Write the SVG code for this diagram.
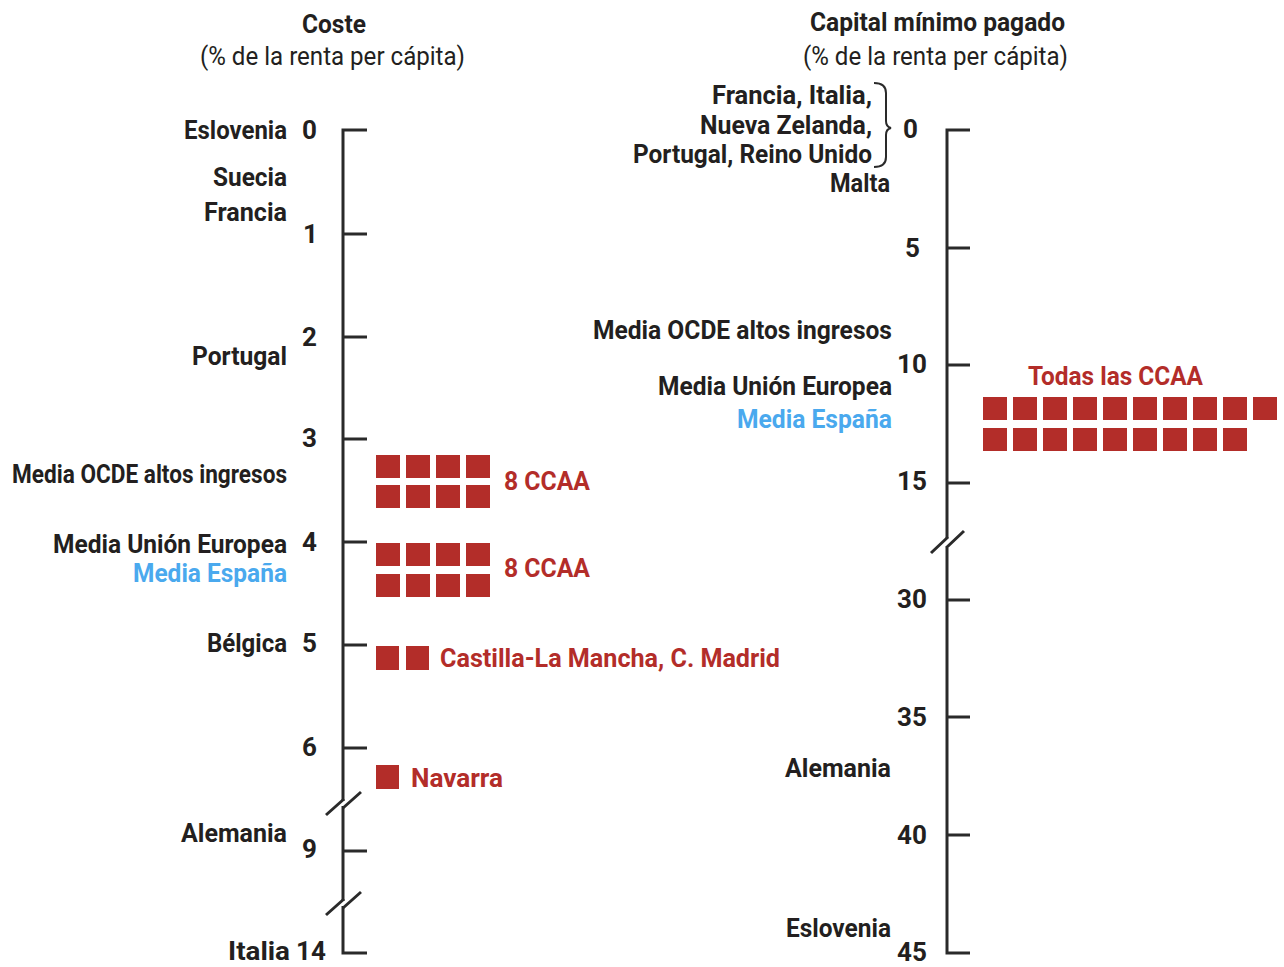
<svg xmlns="http://www.w3.org/2000/svg" width="1284" height="967" viewBox="0 0 1284 967">
<style>
text{font-family:Roboto,"Liberation Sans",sans-serif;font-size:26px;font-weight:700;fill:#231f20}
.sub{font-weight:400}
.blue{fill:#4aa9ee}
.red{fill:#b32d29}
.ax{stroke:#2a2a2a;stroke-width:3;fill:none}
.sq{fill:#b32d29}
</style>
<defs>
<rect id="s" width="24" height="23" class="sq"/>
</defs>
<rect width="1284" height="967" fill="#fff"/>

<g id="titles">
<text x="302" y="33" textLength="64" lengthAdjust="spacingAndGlyphs">Coste</text>
<text class="sub" x="200" y="65" textLength="265" lengthAdjust="spacingAndGlyphs">(% de la renta per cápita)</text>
<text x="810" y="31" textLength="255" lengthAdjust="spacingAndGlyphs">Capital mínimo pagado</text>
<text class="sub" x="803" y="65" textLength="265" lengthAdjust="spacingAndGlyphs">(% de la renta per cápita)</text>
</g>

<g id="connectors">
<g id="left-axis">
<path class="ax" d="M367 130H343V801"/>
<path class="ax" d="M343 806V901"/>
<path class="ax" d="M343 906V953H367"/>
<path class="ax" d="M326 815L344 799M343 808L361 792"/>
<path class="ax" d="M326 915L344 899M343 908L361 892"/>
<path class="ax" d="M343 234H367M343 337H367M343 439H367M343 542H367M343 645H367M343 748H367M343 851H367"/>
</g>
<g id="right-axis">
<path class="ax" d="M970 130H947V538"/>
<path class="ax" d="M947 548V953H970"/>
<path class="ax" d="M931 553L948 537M946 548L964 531"/>
<path class="ax" d="M947 248H970M947 365H970M947 483H970M947 600H970M947 717H970M947 835H970"/>
</g>
<path id="brace" d="M874 83Q886 83 886 93V121Q886 127 891 128Q886 129 886 135V157Q886 167 874 167" stroke="#2a2a2a" stroke-width="2" fill="none"/>
</g>

<g id="left-ticks">
<text x="302" y="139">0</text>
<text x="303" y="243">1</text>
<text x="302" y="346">2</text>
<text x="302" y="447">3</text>
<text x="302" y="551">4</text>
<text x="302" y="652">5</text>
<text x="302" y="756">6</text>
<text x="302" y="858">9</text>
<text x="296" y="960">14</text>
</g>

<g id="left-labels">
<text x="184" y="139" textLength="103" lengthAdjust="spacingAndGlyphs">Eslovenia</text>
<text x="213" y="186" textLength="74" lengthAdjust="spacingAndGlyphs">Suecia</text>
<text x="204" y="221" textLength="83" lengthAdjust="spacingAndGlyphs">Francia</text>
<text x="192" y="365" textLength="95" lengthAdjust="spacingAndGlyphs">Portugal</text>
<text x="12" y="483" textLength="275" lengthAdjust="spacingAndGlyphs">Media OCDE altos ingresos</text>
<text x="53" y="553" textLength="234" lengthAdjust="spacingAndGlyphs">Media Unión Europea</text>
<text class="blue" x="133" y="582" textLength="154" lengthAdjust="spacingAndGlyphs">Media España</text>
<text x="207" y="652" textLength="80" lengthAdjust="spacingAndGlyphs">Bélgica</text>
<text x="181" y="842" textLength="106" lengthAdjust="spacingAndGlyphs">Alemania</text>
<text x="228" y="960" textLength="62" lengthAdjust="spacingAndGlyphs">Italia</text>
</g>

<g id="left-group-1">
<use href="#s" x="376" y="455"/><use href="#s" x="406" y="455"/><use href="#s" x="436" y="455"/><use href="#s" x="466" y="455"/>
<use href="#s" x="376" y="485"/><use href="#s" x="406" y="485"/><use href="#s" x="436" y="485"/><use href="#s" x="466" y="485"/>
<text class="red" x="504" y="490" textLength="86" lengthAdjust="spacingAndGlyphs">8 CCAA</text>
</g>
<g id="left-group-2">
<use href="#s" x="376" y="543"/><use href="#s" x="406" y="543"/><use href="#s" x="436" y="543"/><use href="#s" x="466" y="543"/>
<use href="#s" x="376" y="574"/><use href="#s" x="406" y="574"/><use href="#s" x="436" y="574"/><use href="#s" x="466" y="574"/>
<text class="red" x="504" y="577" textLength="86" lengthAdjust="spacingAndGlyphs">8 CCAA</text>
</g>
<g id="left-group-3">
<rect class="sq" x="376" y="646" width="23" height="24"/><rect class="sq" x="406" y="646" width="23" height="24"/>
<text class="red" x="440" y="667" textLength="340" lengthAdjust="spacingAndGlyphs">Castilla-La Mancha, C. Madrid</text>
</g>
<g id="left-group-4">
<rect class="sq" x="376" y="765" width="23" height="24"/>
<text class="red" x="411" y="787" textLength="92" lengthAdjust="spacingAndGlyphs">Navarra</text>
</g>

<g id="right-ticks">
<text x="903" y="138">0</text>
<text x="905" y="257">5</text>
<text x="897" y="373">10</text>
<text x="897" y="490">15</text>
<text x="897" y="608">30</text>
<text x="897" y="726">35</text>
<text x="897" y="844">40</text>
<text x="897" y="961">45</text>
</g>

<g id="right-labels">
<text x="712" y="104" textLength="160" lengthAdjust="spacingAndGlyphs">Francia, Italia,</text>
<text x="700" y="134" textLength="172" lengthAdjust="spacingAndGlyphs">Nueva Zelanda,</text>
<text x="633" y="163" textLength="239" lengthAdjust="spacingAndGlyphs">Portugal, Reino Unido</text>
<text x="830" y="192" textLength="60" lengthAdjust="spacingAndGlyphs">Malta</text>
<text x="593" y="339" textLength="299" lengthAdjust="spacingAndGlyphs">Media OCDE altos ingresos</text>
<text x="658" y="395" textLength="234" lengthAdjust="spacingAndGlyphs">Media Unión Europea</text>
<text class="blue" x="737" y="428" textLength="155" lengthAdjust="spacingAndGlyphs">Media España</text>
<text x="785" y="777" textLength="106" lengthAdjust="spacingAndGlyphs">Alemania</text>
<text x="786" y="937" textLength="105" lengthAdjust="spacingAndGlyphs">Eslovenia</text>
</g>

<g id="right-group">
<text class="red" x="1028" y="385" textLength="175" lengthAdjust="spacingAndGlyphs">Todas las CCAA</text>
<use href="#s" x="983" y="397"/><use href="#s" x="1013" y="397"/><use href="#s" x="1043" y="397"/><use href="#s" x="1073" y="397"/><use href="#s" x="1103" y="397"/><use href="#s" x="1133" y="397"/><use href="#s" x="1163" y="397"/><use href="#s" x="1193" y="397"/><use href="#s" x="1223" y="397"/><use href="#s" x="1253" y="397"/>
<use href="#s" x="983" y="428"/><use href="#s" x="1013" y="428"/><use href="#s" x="1043" y="428"/><use href="#s" x="1073" y="428"/><use href="#s" x="1103" y="428"/><use href="#s" x="1133" y="428"/><use href="#s" x="1163" y="428"/><use href="#s" x="1193" y="428"/><use href="#s" x="1223" y="428"/>
</g>
</svg>
